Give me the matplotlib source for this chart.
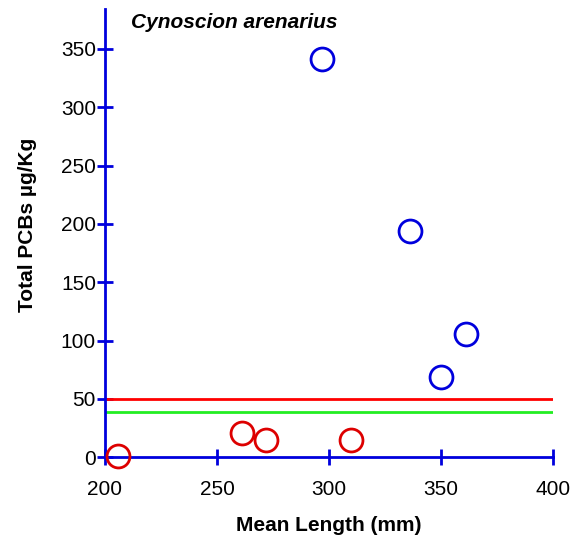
import matplotlib
matplotlib.use("Agg")
import matplotlib.pyplot as plt

plt.rcParams['font.family'] = ['Liberation Sans', 'DejaVu Sans']

# low values (red) and high values (blue)
low_length = [206, 261, 272, 310]
low_pcb = [1, 21, 15, 15]
high_length = [297, 336, 350, 361]
high_pcb = [341, 194, 69, 106]

red_level = 50
green_level = 38.6

x_ticks = [200, 250, 300, 350, 400]
y_ticks = [0, 50, 100, 150, 200, 250, 300, 350]

blue = "#0000DD"

fig = plt.figure(figsize=(5.83, 5.39), dpi=100)
ax = fig.add_axes([0.180, 0.1516, 0.7685, 0.8314])

ax.plot([200, 400], [red_level, red_level], color="#FF0000", lw=2, zorder=2)
ax.plot([200, 400], [green_level, green_level], color="#22EE22", lw=2, zorder=2)

ax.plot(low_length, low_pcb, 'o', ms=16.5, mfc='none', mec="#DD0000", mew=2,
        clip_on=False, zorder=3)
ax.plot(high_length, high_pcb, 'o', ms=16.5, mfc='none', mec=blue, mew=2,
        clip_on=False, zorder=3)

ax.set_xlim(200, 400)
ax.set_ylim(0, 384)
ax.set_xticks(x_ticks)
ax.set_yticks(y_ticks)

for s in ['top', 'right']:
    ax.spines[s].set_visible(False)
for s in ['left', 'bottom']:
    ax.spines[s].set_color(blue)
    ax.spines[s].set_linewidth(2)

ax.tick_params(axis='both', direction='inout', length=11, width=2, color=blue,
               labelsize=15)
ax.tick_params(axis='x', pad=11)
ax.tick_params(axis='y', pad=1)

ax.set_xlabel("Mean Length (mm)", fontsize=15, fontweight='bold', labelpad=12)
ax.set_ylabel("Total PCBs µg/Kg", fontsize=15, fontweight='bold')
ax.yaxis.set_label_coords(-0.152, 0.518)

ax.text(0.058, 0.97, "Cynoscion arenarius", transform=ax.transAxes,
        fontsize=15, fontweight='bold', fontstyle='italic', va='center', ha='left')

fig.savefig("out.png", dpi=100)
